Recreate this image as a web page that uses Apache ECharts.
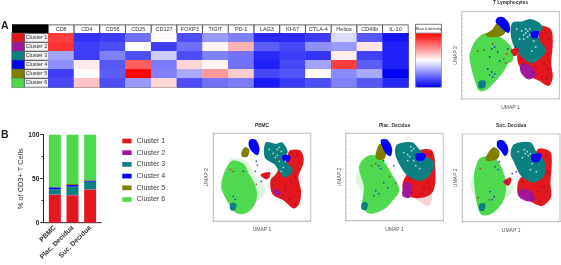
<!DOCTYPE html>
<html>
<head>
<meta charset="utf-8">
<style>html,body{margin:0;padding:0;background:#fff}#chart{width:561px;height:265px}</style>
<script src="https://cdn.jsdelivr.net/npm/echarts@6/dist/echarts.min.js"></script>
</head>
<body>
<div id="chart"></div>
<script>
var clusters = ['Cluster 1', 'Cluster 2', 'Cluster 3', 'Cluster 4', 'Cluster 5', 'Cluster 6'];
var markers = ['CD8', 'CD4', 'CD56', 'CD25', 'CD127', 'FOXP3', 'TIGIT', 'PD-1', 'LAG3', 'KI-67', 'CTLA-4', 'Helios', 'CD49b', 'IL-10'];
var clusterColors = ['#e3181f', '#a0169c', '#0c8080', '#0000ff', '#808000', '#4fd94f'];

// marker intensity, 0 = lowest, 50 = middle, 100 = highest
var intensity1 = [88, 10, 12, 22, 51, 15, 30, 25, 8, 8, 12, 43, 17, 4];
var intensity2 = [90, 12, 15, 50, 12, 22, 52, 65, 18, 14, 28, 30, 55, 6];
var intensity3 = [32, 12, 25, 15, 40, 15, 25, 22, 8, 12, 10, 53, 13, 6];
var intensity4 = [28, 54, 17, 82, 24, 58, 52, 22, 6, 14, 32, 88, 18, 6];
var intensity5 = [12, 51, 18, 100, 25, 33, 70, 60, 14, 16, 51, 27, 33, 0];
var intensity6 = [14, 62, 15, 30, 58, 15, 22, 24, 5, 11, 15, 25, 17, 8];
var intensityRows = [intensity1, intensity2, intensity3, intensity4, intensity5, intensity6];

var tissues = ['PBMC', 'Plac. Decidua', 'Suc. Decidua'];
var share1 = [31.8, 31, 37.5];
var share2 = [0.3, 0.5, 0.5];
var share3 = [5.8, 9.5, 8.6];
var share4 = [2.3, 1.8, 1.2];
var share5 = [0.2, 1.2, 0.7];
var share6 = [59.6, 56, 51.5];
var shares = [share1, share2, share3, share4, share5, share6];

// cluster outlines, axis units
var lymphHulls = [
  ['Cluster 6', [[21.7,64],[33,64],[45,55.7],[50,49],[50,39],[45,35.7],[41.7,29],[35,20.7],[25,10.7],[18.3,9],[15,15.7],[10,34],[9,44],[13.3,55.7]]],
  ['Cluster 3', [[18,17],[23,17],[22,12],[18,12]]],
  ['Cluster 5', [[36.7,75.7],[43.3,70.7],[41.7,65.7],[33.3,63],[25,64],[31.7,69]]],
  ['Cluster 4', [[36.7,80.7],[41.7,80.7],[46.7,74],[46.7,67.3],[43.3,69],[38.3,74],[35,77.3]]],
  ['Cluster 1', [[78,72],[88.3,69],[90,55.7],[88.3,35.7],[90,22.3],[86.7,14],[78.3,19],[68.3,24],[58.3,34],[56.7,44],[62,47],[70,50],[78,60]]],
  ['Cluster 3', [[51.7,75.7],[60,76.3],[68.3,79],[76.7,75.7],[80,70.7],[75,65.7],[78.3,55.7],[83.3,49],[75,39],[68.3,37.3],[58.3,45.7],[53.3,52.3],[50,65.7]]],
  ['Cluster 2', [[60,34],[68.3,32.3],[73.3,24],[66.7,20.7],[60,27.3]]],
  ['Cluster 4', [[70,66],[76,67],[75,62],[71,62]]],
  ['Cluster 1', [[50,48],[56,50],[54,44]]]
];
var pbmcHulls = [
  ['halo 6', [[18.3,63],[33.3,59.7],[43,44.7],[51.7,34.7],[50,24.7],[40,20],[30,40],[15,55]]],
  ['Cluster 6', [[20,59.7],[30,56.3],[35,46.3],[40,38],[42.7,26.3],[40,16.3],[31.7,8.7],[23.3,9.3],[16.7,17.7],[9.3,32.7],[10,42.7],[15,54.7]]],
  ['Cluster 3', [[18,17],[22,17],[21,12],[18,12]]],
  ['Cluster 4', [[37.3,80.7],[41.7,80.7],[45,73],[44,67.3],[40,69.7],[36.7,75]]],
  ['Cluster 5', [[31.7,73],[35,71.3],[33.3,65.3],[29,66.3]]],
  ['Cluster 1', [[76.7,69.7],[86.7,69.7],[89.3,59.7],[84,44.7],[86.7,29.7],[85,18],[80,14],[71.7,21.3],[60,28],[58.3,41.3],[63.3,46.3],[68,55],[75,61]]],
  ['Cluster 3', [[53.3,78],[63.3,76.3],[68.3,78],[73.3,69.7],[70,61.3],[78.3,51.3],[71.7,44.7],[61.7,58],[53.3,63],[51.7,69.7]]],
  ['Cluster 2', [[61.7,31],[66.7,28],[63.3,27.3]]],
  ['Cluster 1', [[48.3,46.3],[56,48],[54,43]]],
  ['Cluster 4', [[70,65],[76,65],[75,61],[71,61]]]
];
var placHulls = [
  ['halo 6', [[16,57],[10,40.7],[19.3,27.3],[22.7,57]]],
  ['Cluster 6', [[22.7,64],[34.3,62.3],[44.3,47.3],[52.7,30.7],[46,20.7],[37.7,12.3],[24.3,8],[17.7,14],[19.3,34],[14.3,54]]],
  ['Cluster 3', [[17,17],[21,17],[20,12],[17,12]]],
  ['Cluster 5', [[34.3,75.7],[39.3,70.7],[37.7,62.3],[31,63.3]]],
  ['Cluster 4', [[36,80],[41,80],[45.3,72.3],[44.3,65.7],[40.3,69],[37.7,74]]],
  ['halo 1', [[66,25],[86,25],[83,15],[76,18]]],
  ['Cluster 1', [[74.3,69],[86,69],[88.7,44],[86,29],[76,24],[62.7,25.7],[57.7,34],[62,45.7],[72,55]]],
  ['Cluster 3', [[52.7,75.7],[66,77.3],[72.7,70.7],[79.3,64],[87.7,57.3],[82.7,45.7],[74.3,40.7],[61,47.3],[52.7,60.7],[50.3,69]]],
  ['Cluster 2', [[60,37.3],[64.3,35.7],[63.3,24],[57.7,25.7]]],
  ['Cluster 4', [[71,66],[79,66],[77,61],[72,61]]]
];
var sucHulls = [
  ['halo 6', [[14,52],[8.3,36.7],[16,18],[19.3,52]]],
  ['halo 6', [[39.3,38],[51,36.7],[47.7,26.7],[37.7,21.7]]],
  ['Cluster 6', [[19.3,63.3],[31,63.3],[39.3,51.7],[42.7,35],[39.3,20],[27.7,8.3],[19.3,8.3],[15,21.7],[12.7,45],[15,56.7]]],
  ['Cluster 3', [[18,17],[22,17],[21,12],[18,12]]],
  ['Cluster 5', [[31,73.3],[36,70],[34.3,63.3],[24.3,62.3]]],
  ['Cluster 4', [[36,80],[41,80],[45,71.7],[42.7,66.7],[39.3,71.7],[36,75]]],
  ['Cluster 1', [[76,71.7],[87.7,68.3],[87,38.3],[87.7,25],[79.3,16.7],[67.7,21.7],[57,26.7],[57,40],[62.7,46.7],[72,55]]],
  ['Cluster 3', [[52.7,76.7],[67.7,78.3],[72.7,70],[81,60],[81,46.7],[71,40],[59.3,46.7],[52.7,60],[49.3,68.3]]],
  ['Cluster 2', [[59.3,31.7],[67.7,30],[71.7,21.7],[62.7,22.3],[57,26.7]]],
  ['Cluster 4', [[70,66],[78,67],[76,61],[71,61]]],
  ['Cluster 1', [[42,40],[48,43],[46,37]]]
];

// stray events seen on top of the big clusters
var lymphBlue = [[30,50],[33,52],[36,47],[28,42],[26,30],[30,27],[33,25],[28,24],[31,22],[38,38],[46,50],[52,44],[56,49],[54,52]];
var lymphRed = [[16,48],[22,49],[45,45],[42,40],[44,36],[31,55]];
var lymphWhite = [[64,66],[66,62],[62,60],[68,70],[60,68],[72,58],[74,52],[58,60],[55,70],[70,48],[47,60],[49,57],[51,54],[64,70],[66,68],[62,64],[68,64]];
var lymphDark = [[84,66],[87,60],[86,45],[87,30],[85,20],[80,22],[72,27],[62,35],[60,40],[82,35],[74,32],[80,62]];
var pbmcBlue = [[30,50],[43,60],[44,56],[42,50],[48,40],[52,44],[78,40],[72,32],[20,25],[22,22]];
var pbmcRed = [[17,52],[20,50],[43,37],[65,62]];
var pbmcWhite = [[60,68],[64,72],[66,60],[62,64],[56,72],[70,54],[68,50],[72,60],[47,62],[50,30],[55,35],[64,66],[68,70],[66,74]];
var pbmcDark = [[62,42],[60,36],[64,31],[70,26],[76,22],[82,17],[84,30],[82,44],[86,58],[84,66],[72,36],[66,44]];
var placBlue = [[33,55],[35,52],[30,30],[28,25],[33,27],[38,38],[42,33],[38,60],[48,55]];
var placRed = [[30,57],[26,55],[44,44],[50,38]];
var placWhite = [[62,66],[66,70],[68,60],[58,68],[62,60],[70,55],[74,52],[52,46],[56,42],[48,62],[65,74],[68,72],[64,64]];
var placDark = [[85,66],[86,50],[84,32],[76,27],[66,28],[60,34],[64,42],[78,33],[82,38]];
var sucBlue = [[33,55],[36,52],[28,30],[32,25],[30,22],[37,60],[50,48],[54,50],[44,40]];
var sucRed = [[18,53],[16,24],[27,22],[46,42]];
var sucWhite = [[62,72],[66,66],[60,64],[56,70],[70,58],[74,50],[68,52],[50,55],[48,62],[52,42],[65,70],[68,68],[63,68]];
var sucDark = [[85,66],[85,50],[85,30],[78,20],[70,24],[60,30],[60,40],[82,35],[76,30]];

var umapPanels = [
  {title: 'T Lymphocytes', titleY: 3, hulls: lymphHulls, blue: lymphBlue, red: lymphRed, white: lymphWhite, dark: lymphDark, left: 461.7, top: 11.7, w: 97.7, h: 87.3},
  {title: 'PBMC', titleY: 125.7, hulls: pbmcHulls, blue: pbmcBlue, red: pbmcRed, white: pbmcWhite, dark: pbmcDark, left: 213.3, top: 133.3, w: 97.4, h: 88},
  {title: 'Plac. Decidua', titleY: 125.7, hulls: placHulls, blue: placBlue, red: placRed, white: placWhite, dark: placDark, left: 345.7, top: 133.3, w: 97.6, h: 87.4},
  {title: 'Suc. Decidua', titleY: 125.7, hulls: sucHulls, blue: sucBlue, red: sucRed, white: sucWhite, dark: sucDark, left: 462.3, top: 134, w: 97.7, h: 87.7}
];

var font = '"Liberation Sans", Arial, sans-serif';
var chart = echarts.init(document.getElementById('chart'), null, {renderer: 'canvas'});

var heatData = [];
intensityRows.forEach(function (row, r) {
  row.forEach(function (v, c) { heatData.push([c, r, v]); });
});

var grids = [
  {left: 48.3, top: 33.3, width: 360, height: 54, show: true, borderColor: '#555', borderWidth: 1, backgroundColor: 'transparent'},
  {left: 12, top: 33.3, width: 12, height: 54},
  {left: 46, top: 134.7, width: 53, height: 88}
];
var xAxes = [
  {gridIndex: 0, type: 'category', position: 'top', data: markers, axisTick: {show: false}, axisLine: {show: false},
    axisLabel: {interval: 0, margin: 0, fontSize: 5.5, fontFamily: font, color: '#333', width: 24.7, height: 8, lineHeight: 8,
      backgroundColor: '#fff', borderColor: '#444', borderWidth: 0.7, align: 'center', padding: [0, 0, 0, 0]}},
  {gridIndex: 1, type: 'category', data: ['swatch'], show: false},
  {gridIndex: 2, type: 'category', data: tissues, axisTick: {alignWithLabel: true, length: 2.5, lineStyle: {color: '#222', width: 1}},
    axisLine: {show: false},
    axisLabel: {interval: 0, rotate: 45, margin: 4, fontSize: 6.8, fontWeight: 'bold', fontFamily: font, color: '#333'}}
];
var yAxes = [
  {gridIndex: 0, type: 'category', inverse: true, data: clusters, axisTick: {show: false}, axisLine: {show: false},
    axisLabel: {interval: 0, margin: 0, fontSize: 5.4, fontFamily: font, color: '#333', width: 22.3, height: 8, lineHeight: 8,
      backgroundColor: '#f4f4f4', borderColor: '#444', borderWidth: 0.7, align: 'right', padding: [0, 1, 0, 0]}},
  {gridIndex: 1, type: 'category', inverse: true, data: clusters, show: false},
  {gridIndex: 2, type: 'value', min: 0, max: 100, interval: 50, offset: 2.7, splitLine: {show: false},
    name: '% of CD3+ T Cells', nameLocation: 'middle', nameGap: 18.5,
    nameTextStyle: {fontSize: 7.4, fontFamily: font, color: '#333'},
    axisLine: {show: true, lineStyle: {color: '#222', width: 1}},
    axisTick: {show: true, length: 3, lineStyle: {color: '#222', width: 1}},
    minorTick: {show: true, splitNumber: 2, length: 2, lineStyle: {color: '#222', width: 0.8}},
    axisLabel: {fontSize: 6.6, fontWeight: 'bold', fontFamily: font, color: '#222', margin: 4}}
];
var series = [
  {type: 'heatmap', xAxisIndex: 0, yAxisIndex: 0, data: heatData, itemStyle: {borderWidth: 0}, silent: true},
  {type: 'heatmap', xAxisIndex: 1, yAxisIndex: 1, silent: true, itemStyle: {borderColor: '#555', borderWidth: 0.5},
    data: clusters.map(function (c, i) {
      return {value: [0, i, i], itemStyle: {color: clusterColors[i]}};
    })}
];
clusters.forEach(function (c, i) {
  series.push({type: 'bar', name: c, xAxisIndex: 2, yAxisIndex: 2, stack: 'cd3', barWidth: 12, data: shares[i],
    itemStyle: {color: clusterColors[i]}});
});

function hullSeries(gridIdx, hull) {
  var name = hull[0], pts = hull[1];
  var halo = name.indexOf('halo') === 0;
  var color = clusterColors[+name.slice(-1) - 1];
  return {
    type: 'custom', xAxisIndex: gridIdx, yAxisIndex: gridIdx, silent: true, data: pts,
    renderItem: function (params, api) {
      if (params.dataIndex !== 0) return null;
      return {
        type: 'polygon',
        shape: {points: pts.map(function (d) { return api.coord(d); }), smooth: 0.3},
        style: halo
          ? {fill: color, opacity: 0.2}
          : {fill: color, stroke: color, lineWidth: 2.2, lineJoin: 'round'}
      };
    }
  };
}
function dotSeries(gridIdx, pts, color) {
  return {type: 'scatter', xAxisIndex: gridIdx, yAxisIndex: gridIdx, silent: true, data: pts, symbolSize: 1.8, itemStyle: {color: color}};
}

var titleTexts = [];
umapPanels.forEach(function (p, k) {
  var g = k + 3;
  grids.push({left: p.left, top: p.top, width: p.w, height: p.h, show: true, borderColor: '#c9c9c9', borderWidth: 1.2, backgroundColor: 'transparent'});
  xAxes.push({gridIndex: g, type: 'value', min: 0, max: p.w, interval: 4, splitLine: {show: false},
    name: 'UMAP 1', nameLocation: 'middle', nameGap: 6, nameTextStyle: {fontSize: 5, fontFamily: font, color: '#555'},
    axisLine: {show: false}, axisLabel: {show: false}, axisTick: {inside: true, length: 1, lineStyle: {color: '#999', width: 0.5}}});
  yAxes.push({gridIndex: g, type: 'value', min: 0, max: p.h, interval: 4, splitLine: {show: false},
    name: 'UMAP 2', nameLocation: 'middle', nameGap: 4, nameTextStyle: {fontSize: 5, fontFamily: font, color: '#555'},
    axisLine: {show: false}, axisLabel: {show: false}, axisTick: {inside: true, length: 1, lineStyle: {color: '#999', width: 0.5}}});
  p.hulls.forEach(function (h) { series.push(hullSeries(g, h)); });
  series.push(dotSeries(g, p.dark, '#8e1416'));
  series.push(dotSeries(g, p.white, '#dfe8e4'));
  series.push(dotSeries(g, p.blue, '#1a2ae0'));
  series.push(dotSeries(g, p.red, '#c8201f'));
  titleTexts.push({type: 'text', silent: true, x: p.left + p.w / 2, y: p.titleY,
    style: {text: p.title, fontSize: 4.8, fontWeight: 'bold', fontFamily: font, fill: '#333', align: 'center', verticalAlign: 'middle'}});
});

chart.setOption({
  animation: false,
  backgroundColor: '#fff',
  grid: grids,
  xAxis: xAxes,
  yAxis: yAxes,
  series: series,
  visualMap: {
    type: 'continuous', seriesIndex: [0], min: 0, max: 100, left: 415.5, top: 33.3, itemWidth: 26, itemHeight: 54, padding: 0,
    text: ['', ''], calculable: false, showLabel: false, realtime: false, hoverLink: false,
    inRange: {color: ['#0000f5', '#ffffff', '#ff0000']}, textStyle: {fontSize: 1}
  },
  legend: {
    data: clusters, orient: 'vertical', left: 122.3, top: 137, itemWidth: 9.3, itemHeight: 4.7, itemGap: 3.7, padding: 0,
    selectedMode: false, icon: 'rect', textStyle: {fontSize: 7.2, fontFamily: font, color: '#444', lineHeight: 8}
  },
  graphic: titleTexts.concat([
    {type: 'rect', silent: true, shape: {x: 12, y: 24.3, width: 36.3, height: 9}, style: {fill: '#000'}},
    {type: 'rect', silent: true, shape: {x: 415.5, y: 24.3, width: 26, height: 9}, style: {fill: '#fff', stroke: '#444', lineWidth: 0.7}},
    {type: 'rect', silent: true, shape: {x: 415.5, y: 33.3, width: 26, height: 54}, style: {fill: 'none', stroke: '#555', lineWidth: 0.7}},
    {type: 'text', silent: true, x: 428.5, y: 28.8, style: {text: 'Max Intensity', fontSize: 4.4, fontFamily: font, fill: '#333', align: 'center', verticalAlign: 'middle'}},
    {type: 'line', silent: true, shape: {x1: 43.3, y1: 222.7, x2: 101.7, y2: 222.7}, style: {stroke: '#222', lineWidth: 1}},
    {type: 'text', silent: true, x: 1, y: 21, style: {text: 'A', fontSize: 10.5, fontWeight: 'bold', fontFamily: font, fill: '#222'}},
    {type: 'text', silent: true, x: 1, y: 130, style: {text: 'B', fontSize: 10.5, fontWeight: 'bold', fontFamily: font, fill: '#222'}}
  ])
});
</script>
</body>
</html>
